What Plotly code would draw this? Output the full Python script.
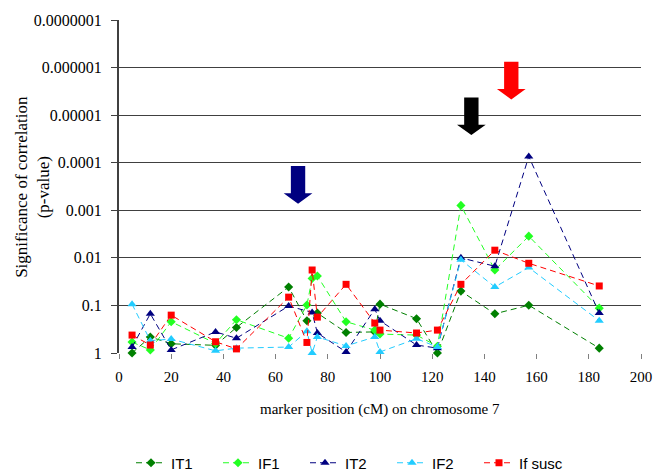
import plotly.graph_objects as go

# marker positions (cM) on chromosome 7
positions = [5, 12, 20, 37, 45, 65, 72, 74, 76, 87, 98, 100, 114, 122, 131, 144, 157, 184]

# p-values per trait (None = no marker at that position)
IT1 = [1.0, 0.46, 0.64, 0.69, 0.29, 0.041, 0.21, None, 0.145, 0.37, 0.36, 0.094, 0.19, 1.0, 0.05, 0.15, 0.099, 0.79]
IF1 = [0.59, 0.86, 0.22, 0.63, 0.20, 0.49, 0.098, 0.027, 0.024, 0.22, 0.33, 0.40, 0.42, 0.72, 0.00079, 0.018, 0.0035, 0.114]
IT2 = [0.75, 0.15, 0.86, 0.36, 0.49, 0.103, None, 0.14, 0.38, 0.95, 0.12, 0.21, 0.68, 0.79, 0.010, 0.015, 0.000074, 0.145]
IF2 = [0.094, 0.55, 0.51, 0.9, 0.79, 0.75, 0.35, 1.0, 0.46, 0.71, 0.46, 0.95, 0.5, 0.75, 0.011, 0.041, 0.016, 0.21]
IF_SUSC = [0.42, 0.68, 0.16, 0.58, 0.82, 0.067, 0.6, 0.018, 0.176, 0.036, 0.235, 0.33, 0.38, 0.33, 0.036, 0.0069, 0.013, 0.039]

series_names = ["IT1", "IF1", "IT2", "IF2", "If susc"]
series_values = [IT1, IF1, IT2, IF2, IF_SUSC]
series_colors = ["#008000", "#22FF22", "#000080", "#22CCFF", "#FF0000"]
series_symbols = ["diamond", "diamond", "triangle-up", "triangle-up", "square"]
series_sizes = [7, 7, 8, 8, 7]

y_tickvals = [1, 0.1, 0.01, 0.001, 0.0001, 0.00001, 0.000001, 0.0000001]
y_ticktext = ["1", "0.1", "0.01", "0.001", "0.0001", "0.00001", "0.000001", "0.0000001"]
x_tickvals = [0, 20, 40, 60, 80, 100, 120, 140, 160, 180, 200]

# highlight arrows: x position (cM), log10 p of arrow tip, colour
arrow_x = [68.6, 135, 150.3]
arrow_tip_log = [-3.14, -4.58, -5.33]
arrow_colors = ["#000080", "#000000", "#FF0000"]

fig = go.Figure()
for name, vals, col, sym, sz in zip(series_names, series_values, series_colors, series_symbols, series_sizes):
    fig.add_trace(go.Scatter(
        x=positions, y=vals, name=name, mode="lines+markers",
        connectgaps=True, cliponaxis=False,
        line=dict(color=col, width=1, dash="6px,4px"),
        marker=dict(color=col, symbol=sym, size=sz, line=dict(width=0)),
    ))

# block arrows (x in data units, y in paper units from log10 p)
Y_MIN_LOG, Y_MAX_LOG = 0, -7
def yp(logp):
    return (Y_MIN_LOG - logp) / (Y_MIN_LOG - Y_MAX_LOG)

shaft_half = 2.75
head_half = 5.5
shaft_len = 0.79  # decades
head_len = 0.22   # decades
shapes = []
for ax_, tip, col in zip(arrow_x, arrow_tip_log, arrow_colors):
    yt = yp(tip)
    yb = yp(tip - head_len)
    ytop = yp(tip - shaft_len)
    path = (f"M{ax_-shaft_half},{ytop} L{ax_+shaft_half},{ytop} L{ax_+shaft_half},{yb} "
            f"L{ax_+head_half},{yb} L{ax_},{yt} L{ax_-head_half},{yb} L{ax_-shaft_half},{yb} Z")
    shapes.append(dict(type="path", path=path, xref="x", yref="paper",
                       fillcolor=col, line=dict(width=0), layer="above"))

serif = "Liberation Serif, Times New Roman, serif"
fig.update_layout(
    width=664, height=472,
    margin=dict(l=119, r=21, t=18, b=119),
    paper_bgcolor="white", plot_bgcolor="white",
    font=dict(family=serif, color="#000"),
    shapes=shapes,
    showlegend=True,
    legend=dict(orientation="h", xref="container", yref="container",
                x=131/664, y=9/472, xanchor="left", yanchor="middle",
                font=dict(family="Liberation Sans, Arial, sans-serif", size=15, color="#000"),
                entrywidth=42, tracegroupgap=0, bgcolor="rgba(0,0,0,0)"),
    xaxis=dict(range=[0, 200], tickvals=x_tickvals, ticks="outside", ticklen=5,
               tickcolor="#808080", showgrid=False, zeroline=False, showline=False,
               ticklabelstandoff=5,
               tickfont=dict(family=serif, size=15, color="#000")),
    yaxis=dict(type="log", range=[Y_MIN_LOG, Y_MAX_LOG], tickvals=y_tickvals, ticktext=y_ticktext,
               ticks="outside", ticklen=6, tickcolor="#404040",
               showgrid=True, gridcolor="#404040", gridwidth=1,
               showline=True, linecolor="#404040", linewidth=2, zeroline=False,
               ticklabelstandoff=6,
               tickfont=dict(family=serif, size=16, color="#000")),
    annotations=[
        dict(text="Significance of correlation<br>(p-value)", textangle=-90,
             xref="paper", yref="paper", x=-(119-32)/524, y=0.5,
             xanchor="center", yanchor="middle", showarrow=False,
             font=dict(family=serif, size=17, color="#000")),
        dict(text="marker position (cM) on chromosome 7",
             xref="paper", yref="paper", x=0.5, y=-(410-353)/335,
             xanchor="center", yanchor="middle", showarrow=False,
             font=dict(family=serif, size=15, color="#000")),
    ],
)

fig.write_html("out.html")
